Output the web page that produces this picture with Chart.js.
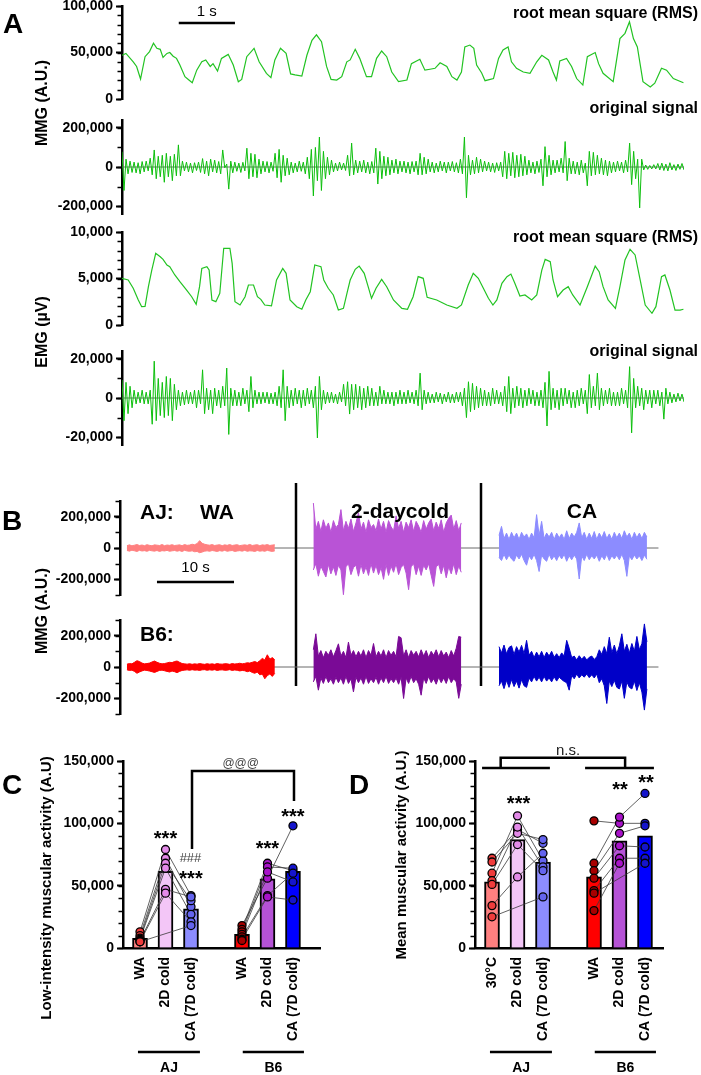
<!DOCTYPE html>
<html>
<head>
<meta charset="utf-8">
<script src="https://cdn.jsdelivr.net/npm/chart.js@4.4.1/dist/chart.umd.min.js"></script>
<style>
  html, body { margin: 0; padding: 0; background: #fff; }
  #fig { position: relative; width: 701px; height: 1075px; overflow: hidden; }
  #fig canvas { position: absolute; left: 0; top: 0; }
</style>
</head>
<body>
<div id="fig"></div>
<script>
// ---------- panel A: 10 s recording (time in s) ----------
const mmgRmsT = [0,0.07,0.2,0.26,0.33,0.41,0.49,0.56,0.62,0.68,0.73,0.8,0.85,0.91,0.97,1.03,1.12,1.18,1.25,1.33,1.42,1.49,1.57,1.62,1.7,1.77,1.89,1.98,2.07,2.13,2.22,2.35,2.44,2.57,2.65,2.72,2.82,2.92,3.0,3.08,3.2,3.29,3.38,3.46,3.55,3.64,3.72,3.82,3.91,4.0,
  4.06,4.15,4.23,4.35,4.44,4.53,4.62,4.71,4.8,4.92,5.07,5.15,5.3,5.39,5.48,5.57,5.66,5.78,5.87,5.96,6.04,6.1,6.19,6.26,6.31,6.4,6.46,6.61,6.7,6.78,6.87,6.93,7.02,7.14,7.26,7.38,7.47,7.59,7.67,7.73,7.79,7.91,8.0,8.09,8.2,8.28,8.42,8.48,8.56,8.74,8.86,8.95,9.03,9.1,9.17,9.27,9.4,9.48,9.6,9.69,9.81,9.99];
// MMG RMS, thousands A.U.
const mmgRmsV = [47,49,40,35,21.5,45.5,51,60,54.5,53.4,44.8,49,50,46,43.7,36.5,24,21,17.5,31,40,42,35,38,30,43.7,48,36.5,18.6,21,45.5,54.5,40,27.6,23,42,54.5,49,27,26,24.7,47,63,69,61.6,35,21,20.4,24,40,
  42,53.4,43.7,24,24,43.7,51.6,45.5,29,18.6,20.4,38,42.7,31,32,33,39,35,24,20.4,29,56,58,54.5,36.5,28,19.7,22,43.7,52.7,56,40,33,29,27.6,40,47,42,29,20.4,41,43.7,35,22,15,45.5,50,38,27.6,18.6,65,70.6,83,65,56,18.6,13,17,33,31,22,17.5];
// MMG original signal, successive extremes, thousands A.U.
const mmgRaw = [78,-120,40,-35,30,-28,25, -30,22,-35,28,-25,30,-20, 45,-40,87,-60,55,-50,60, -78,70,-50,55,-70,65,-45,
  113,-45,30,-20,25,-25,20, -30,22,-18,25,-28,43,-35, 30,-45,40,-25,35,-30,28, -35,87,-4,15,-113,30,-30,
  25,-22,20,-28,24,-20,96, -60,70,-50,65,-55,40,-35, 30,-25,28,-30,25,-22,70, -55,90,-78,60,-45,45,-40,
  25,-30,20,-25,30,-22,25, -35,50,-60,90,-148,100,-70, 153,-120,80,-60,50,-40,35, -25,20,-20,25,-15,20,-18,
  60,-45,122,-40,35,-30,30, -25,35,-30,25,-35,28,-30, 96,-87,80,-60,55,-45,50, -40,35,-30,40,-35,30,-25,
  30,-30,25,-35,28,-25,30, -40,70,-40,50,-35,40,-25, 25,-30,20,-25,30,-20,25, -30,25,-20,28,-25,22,-30,
  40,-35,153,-157,60,-40,35, -35,50,-30,40,-25,30,-20, 25,-25,20,-28,22,-20,25, -50,80,-60,70,-45,75,-55,
  60,-50,65,-45,55,-40,35, -30,25,-35,30,-28,40,-96, 104,-50,60,-40,35,-30,35, -25,45,-30,130,-70,45,-35,
  30,-35,25,-40,35,-30,20, -96,80,-45,75,-40,60,-35, 45,-40,35,-45,30,-30,25, -25,30,-20,25,-30,35,-25,
  122,-90,80,-60,40,-209,40, -15,10,-12,8,-10,12,-10, 18,-15,20,-18,15,-20,22, -15,12,-18,15,-12,18,-15];

const emgRmsT = [0,0.11,0.2,0.29,0.35,0.41,0.47,0.53,0.6,0.68,0.73,0.8,0.85,0.94,1.03,1.15,1.24,1.32,1.38,1.42,1.51,1.55,1.6,1.67,1.74,1.81,1.92,1.96,2.01,2.1,2.19,2.25,2.34,2.41,2.47,2.54,2.66,2.75,2.86,2.92,2.99,3.11,3.2,3.27,3.35,3.43,3.54,3.59,3.67,3.76,3.85,3.94,4.01,
  4.06,4.15,4.22,4.31,4.38,4.44,4.52,4.62,4.71,4.83,4.98,5.08,5.18,5.27,5.36,5.43,5.6,5.78,5.96,6.04,6.16,6.25,6.34,6.43,6.52,6.6,6.67,6.76,6.85,6.92,6.99,7.08,7.17,7.29,7.38,7.47,7.53,7.62,7.67,7.75,7.85,7.94,8.02,8.15,8.28,8.42,8.49,8.56,8.65,8.78,8.86,8.95,9.04,9.13,9.22,9.31,9.43,9.5,9.6,9.66,9.75,9.84,9.93,9.99];
// EMG RMS, µV
const emgRmsV = [5020,4840,3950,2690,1970,2000,4120,5910,7710,7340,7060,6450,6270,5380,4660,3760,3040,2220,4120,6090,6270,5910,2690,2510,3400,8250,8250,6630,2510,2150,3040,4300,4300,3040,2760,2150,2050,4840,6090,5560,2690,1970,1690,2690,3580,6450,6270,4840,3950,3230,1610,1790,3580,
  4840,5990,6340,5560,4120,2870,3950,4910,4120,2690,1790,1690,3040,5200,5020,2980,2690,2150,1790,2150,4300,5560,5020,3950,2870,2150,2690,4480,5200,5480,4480,3120,3230,2690,3230,5910,7060,6810,4840,3040,3760,4120,3230,2150,4120,6340,5730,4120,2690,1790,4120,6990,8140,7530,4840,2150,1260,1970,5200,5380,3760,1610,1610,1690];
// EMG original signal, successive extremes, thousands µV
const emgRaw = [9.2,-11.6,8,-8,6,-5,4, -3,3,-2.5,4,-3,3,-3, 4,-13.4,18.8,-11.6,10,-9,8, -10,11,-9,10,-11.6,7,-6,
  4,-4,3,-3.5,4,-3,3, -3,4,-5,4,-3,14.4,-8, 5,-6,4,-8,5,-4,4, -5,6,-4,15.3,-18.6,5,-4,
  4,-4,3,-4,5,-3,4, -7,11,-5,4,-3,3,-3, 3,-2.5,3,-3,2.5,-3,3, -4,6,-5,14.4,-11.6,6,-5,
  4,-4,5,-3,4,-5,4, -4,5,-3,4,-5,6,-20.4, 11,-6,4,-3,3,-2.5,3, -2.5,2,-3,3,-2,7,-4,
  8.3,-8.2,7,-6,7,-5,6, -6,5,-5,6,-4,5,-4, 3,-4,6,-3,4,-3,3, -3,3,-4,3,-3,4,-3,
  3,-3,4,-2.5,3,-3,4, -4,12.7,-6,4,-3,3,-2.5, 2,-2.5,3,-2,2.5,-3,2, -2,3,-2.5,2,-2.5,3,-2,
  3,-4,5,-10,8.3,-7,7.5, -6,6,-5,5,-4,4,-4, 3,-4,5,-3,4,-3,3, -4,6,-7,11,-8,5,-5,
  6,-4,5,-5,4,-4,5, -3,4,-4,3,-4,4,-5, 8,-14.3,13.6,-6,5,-5,4, -6,5,-4,5,-3,4,-5,
  3,-5,4,-4,5,-3,4, -8,12,-5,6,-4,12.7,-6, 5,-4,4,-3,5,-4,3, -4,3,-4,5,-3,4,-5,
  16,-17.8,10,-5,6,-4,5, -6,4,-3,4,-5,4,-3, 4,-4,3,-10.8,5,-3,3, -2.5,2,-2,2.5,-1.5,2,-2];

// ---------- panel B: MMG traces, upper / lower edge of trace, thousands A.U. ----------
const segStart = [0, 24.2, 48.3];   // s
const segDur = 19.2;                // s
const ajWAhi = [15,20,14,18,22,16,19,15,21,17,14,20,18,16,22,15,19,17,21,16,18,20,15,22,17,19,24,21,28,47,30,24,20,18,22,16,19,21,15,20,17,22,16,19,21,15,18,20,17,23,16,19,21,15,20,18,22,16,19,20];
const ajWAlo = [-16,-20,-14,-18,-22,-15,-19,-17,-21,-15,-18,-20,-16,-22,-17,-19,-15,-21,-18,-16,-20,-17,-22,-15,-19,-21,-18,-24,-22,-30,-26,-20,-18,-21,-16,-19,-22,-17,-20,-15,-21,-18,-16,-22,-19,-17,-20,-15,-21,-18,-19,-22,-16,-20,-18,-21,-15,-19,-22,-18];
const aj2Dhi = [287,120,170,105,180,125,160,100,175,130,150,245,110,170,125,185,105,160,224,120,165,100,180,130,150,110,185,120,170,100,175,135,110,205,125,170,100,165,130,180,105,170,140,100,175,120,160,185,110,165,125,180,100,160,190,210,120,175,110,160];
const aj2Dlo = [-140,-100,-180,-115,-150,-185,-105,-165,-120,-175,-110,-140,-298,-120,-100,-170,-125,-110,-180,-105,-165,-120,-175,-100,-160,-110,-170,-125,-200,-105,-175,-115,-155,-100,-170,-125,-105,-160,-266,-120,-100,-170,-115,-175,-110,-140,-100,-175,-245,-120,-105,-165,-110,-190,-120,-165,-100,-170,-115,-155];
const ajCAhi = [80,138,60,95,55,100,65,95,55,100,70,90,55,95,65,213,80,170,60,95,70,100,55,95,65,90,55,110,60,95,70,100,160,65,100,55,95,60,105,55,95,65,105,60,90,55,100,65,95,60,110,70,95,55,100,65,95,60,100,70];
const ajCAlo = [-60,-80,-40,-75,-45,-70,-85,-45,-70,-40,-80,-110,-50,-75,-40,-80,-150,-45,-70,-85,-40,-75,-50,-80,-45,-70,-40,-85,-50,-75,-45,-70,-198,-50,-80,-40,-75,-50,-70,-45,-85,-50,-75,-40,-80,-50,-70,-45,-75,-40,-80,-181,-50,-75,-45,-70,-50,-80,-45,-72];
const b6WAhi = [18,22,20,30,40,35,25,20,22,25,32,38,30,24,20,22,26,30,28,35,38,30,22,20,18,21,17,20,18,22,19,17,21,18,20,17,22,19,18,21,20,17,22,19,21,24,20,23,27,25,30,35,28,40,55,45,78,50,60,45];
const b6WAlo = [-18,-22,-20,-28,-40,-32,-25,-20,-22,-26,-30,-35,-28,-22,-20,-24,-28,-32,-26,-30,-36,-28,-22,-20,-18,-21,-17,-20,-19,-22,-18,-17,-21,-18,-20,-17,-22,-19,-18,-21,-20,-17,-22,-19,-21,-25,-22,-24,-30,-26,-35,-40,-32,-50,-45,-75,-55,-45,-60,-40];
const b62Dhi = [110,212,70,105,60,100,75,110,65,105,148,70,100,60,159,75,105,65,100,70,110,60,105,75,150,65,100,70,110,60,105,75,100,65,195,187,70,110,60,105,75,100,65,110,70,105,60,100,75,110,65,105,70,95,60,105,70,120,195,190];
const b62Dlo = [-95,-60,-148,-70,-105,-60,-100,-75,-110,-65,-100,-70,-110,-60,-105,-75,-159,-65,-100,-70,-110,-60,-105,-75,-100,-65,-110,-70,-100,-60,-105,-75,-100,-70,-110,-65,-201,-70,-105,-60,-100,-75,-110,-180,-70,-105,-60,-100,-75,-110,-65,-100,-70,-105,-60,-100,-75,-95,-200,-110];
const b6CAhi = [130,90,140,85,125,135,80,130,95,138,85,170,75,100,60,95,65,100,60,95,70,100,62,85,60,90,70,170,120,60,70,45,72,50,68,45,62,70,48,65,110,80,130,85,190,90,140,85,135,212,100,145,90,150,100,195,110,150,275,160];
const b6CAlo = [-120,-90,-138,-85,-130,-80,-125,-90,-135,-80,-120,-130,-70,-95,-60,-90,-65,-95,-60,-90,-70,-95,-62,-90,-65,-80,-92,-100,-148,-55,-75,-45,-70,-50,-65,-45,-68,-50,-70,-45,-100,-75,-120,-233,-90,-125,-85,-130,-140,-90,-200,-95,-130,-140,-90,-150,-100,-160,-275,-140];

// ---------- panels C / D ----------
const groupPos = [1, 2, 3, 5, 6, 7];
const cLabels = ['WA', '2D cold', 'CA (7D cold)', 'WA', '2D cold', 'CA (7D cold)'];
const dLabels = ['30°C', '2D cold', 'CA (7D cold)', 'WA', '2D cold', 'CA (7D cold)'];
const cMeans = [7700, 61500, 31500, 11000, 55500, 61500];
const dMeans = [53000, 87000, 69000, 57000, 86000, 90000];
// per animal: [WA, 2D cold, CA], thousands A.U.
const cAJ = [[13,79,42],[10,72,33],[8,68,38],[7,64,27],[6,47,41],[5,44,21],[5,null,18]];
const cB6 = [[18,56,98],[15,68,62],[13,65,64],[11,61,53],[9,42,60],[7,41,38.5],[6,null,null]];
const dAJ = [[72,95,84],[69,92,87],[60,106,70],[54,97,65],[51,83,62],[34,57,76],[25,null,41]];
const dB6 = [[102,100,100],[68,105,124],[62,92,98],[56,82,81],[46,72,72],[44,null,68],[30,68,null]];

const barCols = ['#ff8080', '#f3c6f7', '#8c8cff', '#ff0000', '#b552d6', '#0000ff'];
const dotCols = ['#f03c3c', '#e38ae8', '#6464ee', '#a80000', '#a812c9', '#1515cc'];

// ---------- helpers ----------
const W = 701, H = 1075;
const FONT = "'Liberation Sans', Arial, Helvetica, sans-serif";
Chart.defaults.font.family = FONT;
const fig = document.getElementById('fig');

function addCanvas() {
  const c = document.createElement('canvas');
  c.width = W; c.height = H;
  c.style.width = W + 'px'; c.style.height = H + 'px';
  fig.appendChild(c);
  return c;
}

function txt(ctx, s, x, y, o = {}) {
  ctx.save();
  ctx.font = `${o.weight || 'bold'} ${o.size || 14}px ${FONT}`;
  ctx.fillStyle = o.color || '#000';
  ctx.textAlign = o.align || 'center';
  ctx.textBaseline = o.base || 'middle';
  ctx.translate(x, y);
  if (o.rot) ctx.rotate(o.rot);
  ctx.fillText(s, 0, 0);
  ctx.restore();
}

function seg(ctx, pts, w = 2.5, color = '#000') {
  ctx.save();
  ctx.strokeStyle = color; ctx.lineWidth = w;
  ctx.beginPath();
  pts.forEach(([x, y], i) => i ? ctx.lineTo(x, y) : ctx.moveTo(x, y));
  ctx.stroke();
  ctx.restore();
}

const minorTicks = {
  id: 'minorTicks',
  afterDraw(chart, args, opts) {
    const step = opts.step;
    if (!step) return;
    const s = chart.scales.y, ctx = chart.ctx, x = chart.chartArea.left;
    ctx.save(); ctx.strokeStyle = '#000'; ctx.lineWidth = 1.5;
    for (let k = Math.ceil(s.min / step); k * step <= s.max; k++) {
      const y = Math.round(s.getPixelForValue(k * step)) + 0.5;
      ctx.beginPath(); ctx.moveTo(x - 4.5, y); ctx.lineTo(x, y); ctx.stroke();
    }
    ctx.restore();
  }
};

const yAxis = (left, r) => ({
  type: 'linear', min: r.min, max: r.max,
  afterFit: s => { s.width = left; s.paddingTop = 0; s.paddingBottom = 0; },
  afterBuildTicks: s => { s.ticks = r.major.map(v => ({ value: v })); },
  ticks: { color: '#000', font: { size: 14, weight: 'bold' }, padding: 3, autoSkip: false,
           callback: v => v.toLocaleString('en-US') },
  grid: { drawOnChartArea: false, drawTicks: true, tickLength: 6, tickWidth: 2, tickColor: '#000' },
  border: { display: true, color: '#000', width: 2.5 }
});

const line = (t, v, k) => t.map((x, i) => ({ x, y: v[i] * k }));
const spread = (v, t0, dur, k) => v.map((y, i) => ({ x: t0 + i * dur / (v.length - 1), y: y * k }));
const trace = (data, color, w = 1, order = 1) =>
  ({ data, borderColor: color, borderWidth: w, pointRadius: 0, fill: false, tension: 0, order });

function traceChart(area, yr, datasets, draw) {
  return new Chart(addCanvas(), {
    type: 'line',
    data: { datasets },
    options: {
      responsive: false, animation: false, devicePixelRatio: 1, events: [],
      layout: { padding: { left: 0, top: area.t, right: W - area.r, bottom: H - area.b } },
      plugins: { legend: { display: false }, tooltip: { enabled: false }, minorTicks: { step: yr.minor } },
      scales: {
        x: { type: 'linear', display: false, min: area.x0, max: area.x1 },
        y: yAxis(area.l, yr)
      }
    },
    plugins: [minorTicks, { id: 'extra', afterDraw: draw }]
  });
}

// ---------- A ----------
const aX = { l: 122, r: 684, x0: 0, x1: 10 };
const GREEN = '#22c322', GREEN2 = '#0cbf0c', ZERO = '#6b6b6b';

traceChart({ ...aX, t: 6, b: 99 }, { min: 0, max: 100000, major: [0, 50000, 100000], minor: 10000 },
  [trace(line(mmgRmsT, mmgRmsV, 1000), GREEN, 1.2)],
  chart => {
    const ctx = chart.ctx, x = chart.scales.x;
    txt(ctx, 'A', 13, 25, { size: 28 });
    seg(ctx, [[x.getPixelForValue(1.01), 23], [x.getPixelForValue(2.01), 23]], 2.5);
    txt(ctx, '1 s', x.getPixelForValue(1.51), 12, { weight: 'normal', size: 15 });
    txt(ctx, 'root mean square (RMS)', 698, 14, { size: 16, align: 'right' });
    txt(ctx, 'MMG (A.U.)', 43, 103, { size: 16, rot: -Math.PI / 2 });
  });

traceChart({ ...aX, t: 120, b: 214 }, { min: -240000, max: 240000, major: [-200000, 0, 200000], minor: 100000 },
  [trace([{ x: 0, y: 0 }, { x: 10, y: 0 }], ZERO, 1, 2), trace(spread(mmgRaw, 0, 10, 1000), GREEN2, 1)],
  chart => txt(chart.ctx, 'original signal', 698, 109, { size: 16, align: 'right' }));

traceChart({ ...aX, t: 232, b: 325 }, { min: 0, max: 10000, major: [0, 5000, 10000], minor: 1000 },
  [trace(line(emgRmsT, emgRmsV, 1), GREEN, 1.2)],
  chart => {
    txt(chart.ctx, 'root mean square (RMS)', 698, 238, { size: 16, align: 'right' });
    txt(chart.ctx, 'EMG (µV)', 43, 332, { size: 16, rot: -Math.PI / 2 });
  });

traceChart({ ...aX, t: 351, b: 445 }, { min: -24000, max: 24000, major: [-20000, 0, 20000], minor: 10000 },
  [trace([{ x: 0, y: 0 }, { x: 10, y: 0 }], ZERO, 1, 2), trace(spread(emgRaw, 0, 10, 1000), GREEN2, 1)],
  chart => txt(chart.ctx, 'original signal', 698, 352, { size: 16, align: 'right' }));

// ---------- B ----------
const bX = { l: 120, r: 660, x0: -0.9, x1: 69.2 };
const bY = { min: -300000, max: 300000, major: [-200000, 0, 200000], minor: 100000 };
const band = (hi, lo, t0, color) => [
  { data: spread(hi, t0, segDur, 1000), borderColor: color, borderWidth: 1, pointRadius: 0, tension: 0, fill: false, order: 1 },
  { data: spread(lo, t0, segDur, 1000), borderColor: color, backgroundColor: color, borderWidth: 1,
    pointRadius: 0, tension: 0, fill: '-1', order: 1 }
];
const bTraces = (traces, cols) => [
  trace([{ x: 0, y: 0 }, { x: 69, y: 0 }], ZERO, 1, 2),
  ...traces.flatMap(([hi, lo], i) => band(hi, lo, segStart[i], cols[i]))
];

traceChart({ ...bX, t: 501, b: 595 }, bY,
  bTraces([[ajWAhi, ajWAlo], [aj2Dhi, aj2Dlo], [ajCAhi, ajCAlo]], ['#ff8080', '#b953d6', '#8c8cff']),
  chart => {
    const ctx = chart.ctx, x = chart.scales.x;
    txt(ctx, 'B', 12, 522, { size: 28 });
    txt(ctx, 'AJ:', 140, 513, { size: 21, align: 'left' });
    txt(ctx, 'WA', 200, 513, { size: 21, align: 'left' });
    txt(ctx, '2-daycold', 400, 512, { size: 21 });
    txt(ctx, 'CA', 582, 512, { size: 21 });
    seg(ctx, [[x.getPixelForValue(3.9), 582], [x.getPixelForValue(13.9), 582]], 2.5);
    txt(ctx, '10 s', x.getPixelForValue(8.9), 568, { weight: 'normal', size: 15 });
    [21.95, 45.97].forEach(t => {
      const px = Math.round(x.getPixelForValue(t));
      seg(ctx, [[px, 483], [px, 686]], 2.5);
    });
    txt(ctx, 'MMG (A.U.)', 43, 611, { size: 16, rot: -Math.PI / 2 });
  });

traceChart({ ...bX, t: 620, b: 714 }, bY,
  bTraces([[b6WAhi, b6WAlo], [b62Dhi, b62Dlo], [b6CAhi, b6CAlo]], ['#ff0000', '#7a0a96', '#0000c8']),
  chart => txt(chart.ctx, 'B6:', 140, 635, { size: 21, align: 'left' }));

// ---------- C / D ----------
function groupChart(area, means, aj, b6, labels, draw) {
  const datasets = [{
    type: 'bar', order: 3,
    data: groupPos.map((p, i) => ({ x: p, y: means[i] })),
    backgroundColor: barCols, borderColor: '#000', borderWidth: 2, barThickness: 15
  }];
  [[aj, 0], [b6, 4]].forEach(([animals, off]) => {
    animals.forEach(a => datasets.push({
      type: 'line', order: 2, spanGaps: true,
      data: a.map((v, j) => ({ x: off + j + 1, y: v == null ? null : v * 1000 })),
      borderColor: '#3a3a3a', borderWidth: 0.8, pointRadius: 0, tension: 0
    }));
    [0, 1, 2].forEach(j => datasets.push({
      type: 'scatter', order: 1,
      data: animals.filter(a => a[j] != null).map(a => ({ x: off + j + 1, y: a[j] * 1000 })),
      backgroundColor: dotCols[off / 4 * 3 + j], borderColor: '#000', borderWidth: 1.3, pointRadius: 4
    }));
  });
  return new Chart(addCanvas(), {
    type: 'bar',
    data: { datasets },
    options: {
      responsive: false, animation: false, devicePixelRatio: 1, events: [],
      layout: { padding: { left: 0, top: area.t, right: W - area.r, bottom: H - area.b - 100 } },
      plugins: { legend: { display: false }, tooltip: { enabled: false }, minorTicks: { step: 10000 } },
      scales: {
        x: {
          type: 'linear', min: area.x0, max: area.x1, offset: false,
          afterFit: s => { s.height = 100; s.paddingLeft = 0; s.paddingRight = 0; },
          afterBuildTicks: s => { s.ticks = groupPos.map(v => ({ value: v })); },
          ticks: { autoSkip: false, minRotation: 90, maxRotation: 90, padding: 9, color: '#000',
                   font: { size: 14, weight: 'bold' }, callback: (v, i) => labels[i] },
          grid: { display: false, drawTicks: false },
          border: { display: true, color: '#000', width: 2.5 }
        },
        y: yAxis(area.l, { min: 0, max: 150000, major: [0, 50000, 100000, 150000] })
      }
    },
    plugins: [minorTicks, { id: 'extra', afterDraw: draw }]
  });
}

function groupUnder(ctx, X) {
  seg(ctx, [[X(0.92), 1052], [X(3.35), 1052]], 2.5);
  seg(ctx, [[X(5.03), 1052], [X(7.43), 1052]], 2.5);
  txt(ctx, 'AJ', X(2.14), 1068, { size: 14 });
  txt(ctx, 'B6', X(6.23), 1068, { size: 14 });
}

groupChart({ l: 123, r: 320, t: 761, b: 948, x0: 0.333, x1: 8.06 }, cMeans, cAJ, cB6, cLabels, chart => {
  const ctx = chart.ctx, X = v => chart.scales.x.getPixelForValue(v), Y = v => chart.scales.y.getPixelForValue(v);
  txt(ctx, 'C', 12, 786, { size: 28 });
  txt(ctx, 'Low-intensity muscular activity (A.U)', 47, 888, { size: 15, rot: -Math.PI / 2 });
  txt(ctx, '***', X(2), Y(87400), { size: 20 });
  txt(ctx, '***', X(3), Y(55300), { size: 20 });
  txt(ctx, '***', X(6), Y(79400), { size: 20 });
  txt(ctx, '***', X(7), Y(105000), { size: 20 });
  txt(ctx, '###', X(2.98), Y(72000), { size: 13, weight: 'normal', color: '#444' });
  seg(ctx, [[X(3.04), Y(79400)], [X(3.04), Y(142000)], [X(7.04), Y(142000)], [X(7.04), Y(118000)]], 2.5);
  txt(ctx, '@@@', X(4.95), Y(148000), { size: 12, weight: 'normal', color: '#444' });
  groupUnder(ctx, X);
});

groupChart({ l: 475, r: 663, t: 761, b: 948, x0: 0.333, x1: 7.706 }, dMeans, dAJ, dB6, dLabels, chart => {
  const ctx = chart.ctx, X = v => chart.scales.x.getPixelForValue(v), Y = v => chart.scales.y.getPixelForValue(v);
  txt(ctx, 'D', 359, 786, { size: 28 });
  txt(ctx, 'Mean muscular activity (A.U.)', 402, 855, { size: 15, rot: -Math.PI / 2 });
  txt(ctx, '***', X(2.04), Y(115500), { size: 20 });
  txt(ctx, '**', X(6.02), Y(126000), { size: 20 });
  txt(ctx, '**', X(7.04), Y(132000), { size: 20 });
  seg(ctx, [[X(0.61), Y(144400)], [X(3.27), Y(144400)]], 2.5);
  seg(ctx, [[X(4.65), Y(144400)], [X(7.35), Y(144400)]], 2.5);
  seg(ctx, [[X(1.34), Y(144400)], [X(1.34), Y(152600)], [X(6.22), Y(152600)], [X(6.22), Y(144400)]], 2.5);
  txt(ctx, 'n.s.', X(3.98), Y(158000), { size: 15, weight: 'normal', color: '#222' });
  groupUnder(ctx, X);
});
</script>
</body>
</html>
